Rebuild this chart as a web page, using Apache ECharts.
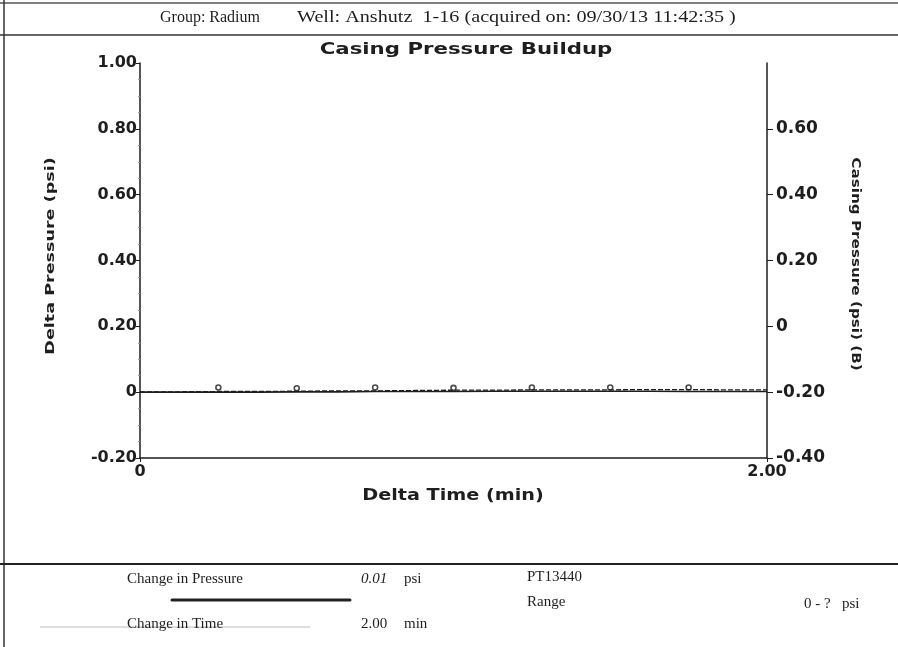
<!DOCTYPE html>
<html>
<head>
<meta charset="utf-8">
<script src="https://cdn.jsdelivr.net/npm/echarts@6/dist/echarts.min.js"></script>
<style>html,body{margin:0;padding:0;background:#fff;}#c{width:898px;height:647px;}</style>
</head>
<body>
<div id="c"></div>
<script>
// Data
var timeMin = [0, 0.125, 0.25, 0.375, 0.5, 0.625, 0.75, 0.875, 1.0, 1.125, 1.25, 1.375, 1.5, 1.625, 1.75, 1.875, 2.0];
var deltaPressure = [0, 0, 0, 0, 0.001, 0.001, 0.002, 0.002, 0.002, 0.003, 0.003, 0.003, 0.003, 0.003, 0.002, 0.002, 0.002];
var casingPressure = [-0.199, -0.199, -0.198, -0.198, -0.197, -0.196, -0.196, -0.195, -0.194, -0.194, -0.193, -0.193, -0.193, -0.192, -0.192, -0.193, -0.193];
var markerTime = [0.25, 0.5, 0.75, 1.0, 1.25, 1.5, 1.75];
var markerPressure = [-0.186, -0.188, -0.186, -0.187, -0.186, -0.186, -0.186];
var leftTickValues = [-0.2, 0, 0.2, 0.4, 0.6, 0.8, 1.0];
var rightTickValues = [-0.4, -0.2, 0, 0.2, 0.4, 0.6];
var xTickValues = [0, 2];

var ink = '#1e1e1e';
var chart = echarts.init(document.getElementById('c'));
var serif = '"Liberation Serif", "DejaVu Serif", serif';
var sans = '"DejaVu Sans", "Liberation Sans", sans-serif';

function pairs(xs, ys) { return xs.map(function (x, i) { return [x, ys[i]]; }); }
function fmt(v) { return Math.abs(v) < 1e-9 ? '0' : v.toFixed(2); }

var labelStyle = { fontFamily: sans, fontWeight: 'bold', fontSize: 16, color: ink };

chart.setOption({
  animation: false,
  backgroundColor: '#fff',
  grid: { left: 140, right: 131, top: 63, bottom: 189 },
  xAxis: {
    type: 'value', min: 0, max: 2, interval: 2,
    axisLine: { show: true, onZero: false, lineStyle: { color: ink, width: 1.5 } },
    axisTick: { show: true, length: 4, lineStyle: { color: ink }, customValues: xTickValues },
    axisLabel: Object.assign({ margin: 6, customValues: xTickValues, formatter: fmt }, labelStyle),
    splitLine: { show: false }
  },
  yAxis: [{
    type: 'value', min: -0.2, max: 1.0, interval: 0.2, position: 'left',
    axisLine: { show: true, onZero: false, lineStyle: { color: ink, width: 1.5 } },
    axisTick: { show: true, length: 4, lineStyle: { color: ink }, customValues: leftTickValues },
    minorTick: { show: true, splitNumber: 4, length: 2, lineStyle: { color: '#999' } },
    axisLabel: Object.assign({ margin: 3, customValues: leftTickValues, formatter: fmt }, labelStyle),
    splitLine: { show: false }
  }, {
    type: 'value', min: -0.4, max: 0.8, interval: 0.2, position: 'right',
    axisLine: { show: true, onZero: false, lineStyle: { color: ink, width: 1.5 } },
    axisTick: { show: true, length: 6, lineStyle: { color: ink }, customValues: rightTickValues },
    axisLabel: Object.assign({ margin: 9, customValues: rightTickValues, formatter: fmt }, labelStyle, { fontSize: 17 }),
    splitLine: { show: false }
  }],
  series: [{
    name: 'Delta Pressure', type: 'line', yAxisIndex: 0,
    data: pairs(timeMin, deltaPressure), showSymbol: false,
    lineStyle: { color: ink, width: 1.6, type: 'solid' }
  }, {
    name: 'Casing Pressure', type: 'line', yAxisIndex: 1,
    data: pairs(timeMin, casingPressure), showSymbol: false,
    lineStyle: { color: ink, width: 1.3, type: [5, 2] }
  }, {
    name: 'Samples', type: 'scatter', yAxisIndex: 1,
    data: pairs(markerTime, markerPressure), symbol: 'circle', symbolSize: 5,
    itemStyle: { color: '#fff', borderColor: ink, borderWidth: 1.6 }
  }],
  graphic: [
    { type: 'line', shape: { x1: 0, y1: 3, x2: 898, y2: 3 }, style: { stroke: '#555', lineWidth: 1.5 } },
    { type: 'line', shape: { x1: 0, y1: 35, x2: 898, y2: 35 }, style: { stroke: '#333', lineWidth: 1.5 } },
    { type: 'line', shape: { x1: 4, y1: 0, x2: 4, y2: 647 }, style: { stroke: '#333', lineWidth: 1.5 } },
    { type: 'line', shape: { x1: 0, y1: 564, x2: 898, y2: 564 }, style: { stroke: '#222', lineWidth: 2 } },
    { type: 'line', shape: { x1: 172, y1: 600, x2: 350, y2: 600 }, style: { stroke: '#222', lineWidth: 3, lineCap: 'round' } },
    { type: 'line', shape: { x1: 40, y1: 627, x2: 310, y2: 627 }, style: { stroke: '#bbb', lineWidth: 1 } },
    // Title and axis names
    { type: 'text', x: 466, y: 42, scaleX: 1.33, style: { text: 'Casing Pressure Buildup', font: 'bold 16px ' + sans, fill: ink, textAlign: 'center', textVerticalAlign: 'top' } },
    { type: 'text', x: 453, y: 489, scaleX: 1.28, style: { text: 'Delta Time (min)', font: 'bold 15px ' + sans, fill: ink, textAlign: 'center', textVerticalAlign: 'top' } },
    { type: 'text', x: 51, y: 256, rotation: Math.PI / 2, scaleX: 1.35, style: { text: 'Delta Pressure (psi)', font: 'bold 13px ' + sans, fill: ink, textAlign: 'center', textVerticalAlign: 'middle' } },
    { type: 'text', x: 855, y: 264, rotation: -Math.PI / 2, scaleX: 1.17, style: { text: 'Casing Pressure (psi) (B)', font: 'bold 13px ' + sans, fill: ink, textAlign: 'center', textVerticalAlign: 'middle' } },
    // Header
    { type: 'text', x: 160, y: 10, style: { text: 'Group: Radium', font: '16px ' + serif, fill: ink } },
    { type: 'text', x: 297, y: 10, scaleX: 1.26, style: { text: 'Well: Anshutz  1-16 (acquired on: 09/30/13 11:42:35 )', font: '16px ' + serif, fill: ink } },
    // Footer
    { type: 'text', x: 127, y: 572, style: { text: 'Change in Pressure', font: '15px ' + serif, fill: ink } },
    { type: 'text', x: 361, y: 572, style: { text: '0.01', font: 'italic 15px ' + serif, fill: ink } },
    { type: 'text', x: 404, y: 572, style: { text: 'psi', font: '15px ' + serif, fill: ink } },
    { type: 'text', x: 527, y: 570, style: { text: 'PT13440', font: '15px ' + serif, fill: ink } },
    { type: 'text', x: 527, y: 595, style: { text: 'Range', font: '15px ' + serif, fill: ink } },
    { type: 'text', x: 804, y: 597, style: { text: '0 - ?   psi', font: '15px ' + serif, fill: ink } },
    { type: 'text', x: 127, y: 617, style: { text: 'Change in Time', font: '15px ' + serif, fill: ink } },
    { type: 'text', x: 361, y: 617, style: { text: '2.00', font: '15px ' + serif, fill: ink } },
    { type: 'text', x: 404, y: 617, style: { text: 'min', font: '15px ' + serif, fill: ink } }
  ]
});
</script>
</body>
</html>
